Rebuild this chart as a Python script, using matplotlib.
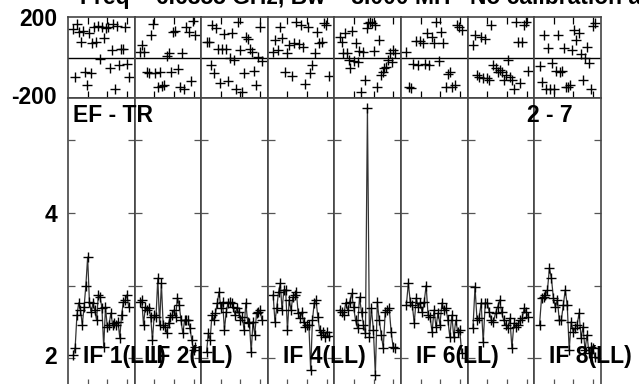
import numpy as np
import matplotlib
matplotlib.use("Agg")
from matplotlib import pyplot as plt

plt.rcParams['font.family'] = ['Liberation Sans', 'DejaVu Sans']
plt.rcParams['font.weight'] = 'bold'

# title strings and labels
TITLE = "Freq = 6.6355 GHz, Bw = 8.000 MH"
TITLE2 = "No calibration applied"
BASELINE = "EF - TR"
TIMERANGE = "2 - 7"
IF_LABELS = ["IF 1(LL)", "IF 2(LL)", "IF 4(LL)", "IF 6(LL)", "IF 8(LL)"]
IF_PANELS = [0, 1, 3, 5, 7]

# amplitude per IF (Jy-ish), channel order
amp_if1 = [2.04, 2.14, 2.59, 2.76, 2.66, 2.46, 2.70, 3.00, 3.39, 2.77, 2.63, 2.76, 2.66, 2.52, 2.87, 2.84,
           2.69, 2.15, 2.70, 2.43, 2.46, 2.62, 2.46, 2.48, 2.46, 2.50, 2.28, 2.59, 2.77, 2.80, 2.87, 2.70]
amp_if2 = [2.77, 2.80, 2.46, 2.70, 2.66, 2.69, 2.57, 2.25, 2.59, 2.57, 3.10, 2.46, 3.03, 2.46, 2.43, 2.34,
           2.48, 2.57, 2.59, 2.66, 2.57, 2.83, 2.73, 2.52, 2.34, 2.52, 2.52, 2.52, 2.41, 2.25, 2.11, 2.15]
amp_if3 = [2.08, 2.34, 2.25, 2.59, 2.52, 2.62, 2.76, 2.91, 2.69, 2.77, 2.39, 2.63, 2.76, 2.77, 2.76, 2.70,
           2.59, 2.69, 2.63, 2.52, 2.57, 2.39, 2.76, 2.50, 2.48, 2.08, 2.50, 2.32, 2.62, 2.63, 2.66, 2.52]
amp_if4 = [2.87, 2.50, 2.69, 2.91, 3.03, 2.66, 2.94, 2.94, 2.39, 2.80, 2.66, 2.84, 2.87, 2.91, 2.62, 2.55,
           2.63, 2.50, 2.43, 2.46, 2.46, 1.83, 2.52, 2.76, 2.80, 2.57, 2.39, 2.32, 2.36, 2.29, 2.36, 2.30]
amp_if5 = [2.66, 2.63, 2.59, 2.76, 2.66, 2.77, 2.89, 2.70, 2.52, 2.41, 2.84, 2.63, 2.46, 2.34, 5.45, 2.29,
           2.69, 2.39, 1.77, 2.77, 2.52, 2.32, 2.14, 2.63, 2.66, 2.69, 2.36, 2.15, 2.14]
amp_if6 = [2.73, 3.03, 2.77, 2.73, 2.48, 2.83, 2.70, 2.76, 2.63, 2.77, 3.00, 2.59, 2.57, 2.36, 2.66, 2.43,
           2.62, 2.46, 2.76, 2.66, 2.69, 2.52, 2.29, 2.59, 2.29, 2.52, 2.36, 2.39, 2.07]
amp_if7 = [2.41, 2.98, 2.52, 2.55, 2.76, 2.22, 2.76, 2.76, 2.63, 2.52, 2.50, 2.62, 2.70, 2.80, 2.63, 2.52,
           2.46, 2.41, 2.55, 2.14, 2.48, 2.43, 2.46, 2.52, 2.55, 2.69, 2.63, 2.57]
amp_if8 = [2.46, 2.83, 2.84, 2.87, 2.94, 3.24, 3.10, 2.83, 2.70, 2.80, 2.52, 2.52, 2.73, 2.94, 2.73, 2.11,
           2.50, 2.36, 2.41, 2.46, 2.62, 2.28, 2.43, 2.11, 2.32, 2.07, 2.15, 2.14, 2.01]

# phase per IF (degrees)
ph_if1 = [139, -98, 165, 128, 78, 133, -70, -136, 123, -78, 73, 152, 78, 156, -9, 152, 95, 144, 152, -54,
          37, 165, -157, 156, -37, 40, 40, 150, -32, -95]
ph_if2 = [29, 62, 29, -70, -75, 111, 165, -75, -147, -70, -141, -136, 7, 21, -70, 128, 133, -58, -147, 24,
          -157, 149, 128, -115, 182, 111]
ph_if3 = [78, 78, -37, 161, -78, 144, 40, -124, 40, 116, 40, -115, -4, 119, -12, -157, 177, 37, -169, -78,
          100, 90, 40, 29, -65, -136, 1, 152, -16]
ph_if4 = [29, 86, 37, 152, 95, -70, 21, 62, -91, 70, 177, 67, 161, 53, -131, 152, -78, -37, 21, 128, 73,
          78, 172, 161, -91]
ph_if5 = [100, 78, 24, 123, 24, -12, -54, 133, -16, 70, -21, 34, -169, 29, -111, 144, 169, 177, 169, 34,
          161, -147, 86, -86, -70, -54, -45, -12, 21, -21, 37, 24]
ph_if6 = [29, -147, -152, -32, 83, -37, 83, 70, -32, 119, -37, 103, 70, 177, -16, 128, 70, -147, -81, -70,
          -147, -136, 161, 152, 136]
ph_if7 = [62, 111, -86, -95, 100, -103, 90, -103, -111, 161, -37, -54, -70, -62, -70, -111, -86, -12, -95,
          -111, -157, 177, 78, -127, 78, 161, 177, -65]
ph_if8 = [-41, -119, 111, -157, 45, -157, -26, -157, -65, 111, -70, -65, 45, -147, -147, -136, 37, 136, 86,
          119, 16, -111, -4, 50, -26, -157, 156, 172]

amps = [amp_if1, amp_if2, amp_if3, amp_if4, amp_if5, amp_if6, amp_if7, amp_if8]
phases = [ph_if1, ph_if2, ph_if3, ph_if4, ph_if5, ph_if6, ph_if7, ph_if8]
NCHAN = 32

W, H = 639, 384
fig = plt.figure(figsize=(W / 100, H / 100), dpi=100)


def px(x, y):
    return x / W, 1 - y / H


X0, PW = 68, 66.6
XLIM = (-2, 35.3)
XTICKS = [9, 20, 31]
BORDER = '#444444'
FS = 16.5

for i in range(8):
    left = (X0 + i * PW) / W
    # phase panel
    axp = fig.add_axes([left, 1 - 98 / H, PW / W, 81 / H])
    ch = np.linspace(1, NCHAN, len(phases[i]))
    axp.plot(ch, phases[i], '+', color='black', ms=7, mew=1.0)
    axp.axhline(0, color='black', lw=1.0)
    axp.set_xlim(*XLIM)
    axp.set_ylim(-200, 200)
    axp.set_xticks(XTICKS)
    axp.set_yticks([])
    axp.tick_params(axis='x', direction='in', length=5, width=0.9, top=True,
                    labelbottom=False, color='black')
    for s in axp.spines.values():
        s.set_color(BORDER)
        s.set_linewidth(1.2)

    # amplitude panel
    axa = fig.add_axes([left, 1 - 386 / H, PW / W, 288 / H])
    ch = np.linspace(1, NCHAN, len(amps[i]))
    axa.plot(ch, amps[i], '-', color='#333333', lw=0.9)
    axa.plot(ch, amps[i], '+', color='black', ms=7, mew=1.0)
    axa.set_xlim(*XLIM)
    axa.set_ylim(1.614, 5.586)
    axa.set_xticks(XTICKS)
    axa.set_yticks([2, 3, 4, 5])
    axa.tick_params(direction='in', length=5, width=0.9, right=True,
                    labelbottom=False, labelleft=False, color='#555555')
    for s in axa.spines.values():
        s.set_color(BORDER)
        s.set_linewidth(1.2)

# axis numbers
for txt, y in [("200", 20), ("-200", 97), ("4", 215), ("2", 357)]:
    fig.text(*px(57, y), txt, ha='right', va='center', fontsize=FS, fontweight='bold')

fig.text(*px(80, 4), TITLE, ha='left', va='baseline', fontsize=FS, fontweight='bold')
fig.text(*px(470, 4), TITLE2, ha='left', va='baseline', fontsize=FS, fontweight='bold')
fig.text(*px(73, 116), BASELINE, ha='left', va='center', fontsize=FS, fontweight='bold')
fig.text(*px(527, 116), TIMERANGE, ha='left', va='center', fontsize=FS, fontweight='bold')

for lab, p in zip(IF_LABELS, IF_PANELS):
    fig.text(*px(X0 + p * PW + 15, 357), lab, ha='left', va='center',
             fontsize=FS, fontweight='bold')

fig.savefig("out.png", dpi=100)
